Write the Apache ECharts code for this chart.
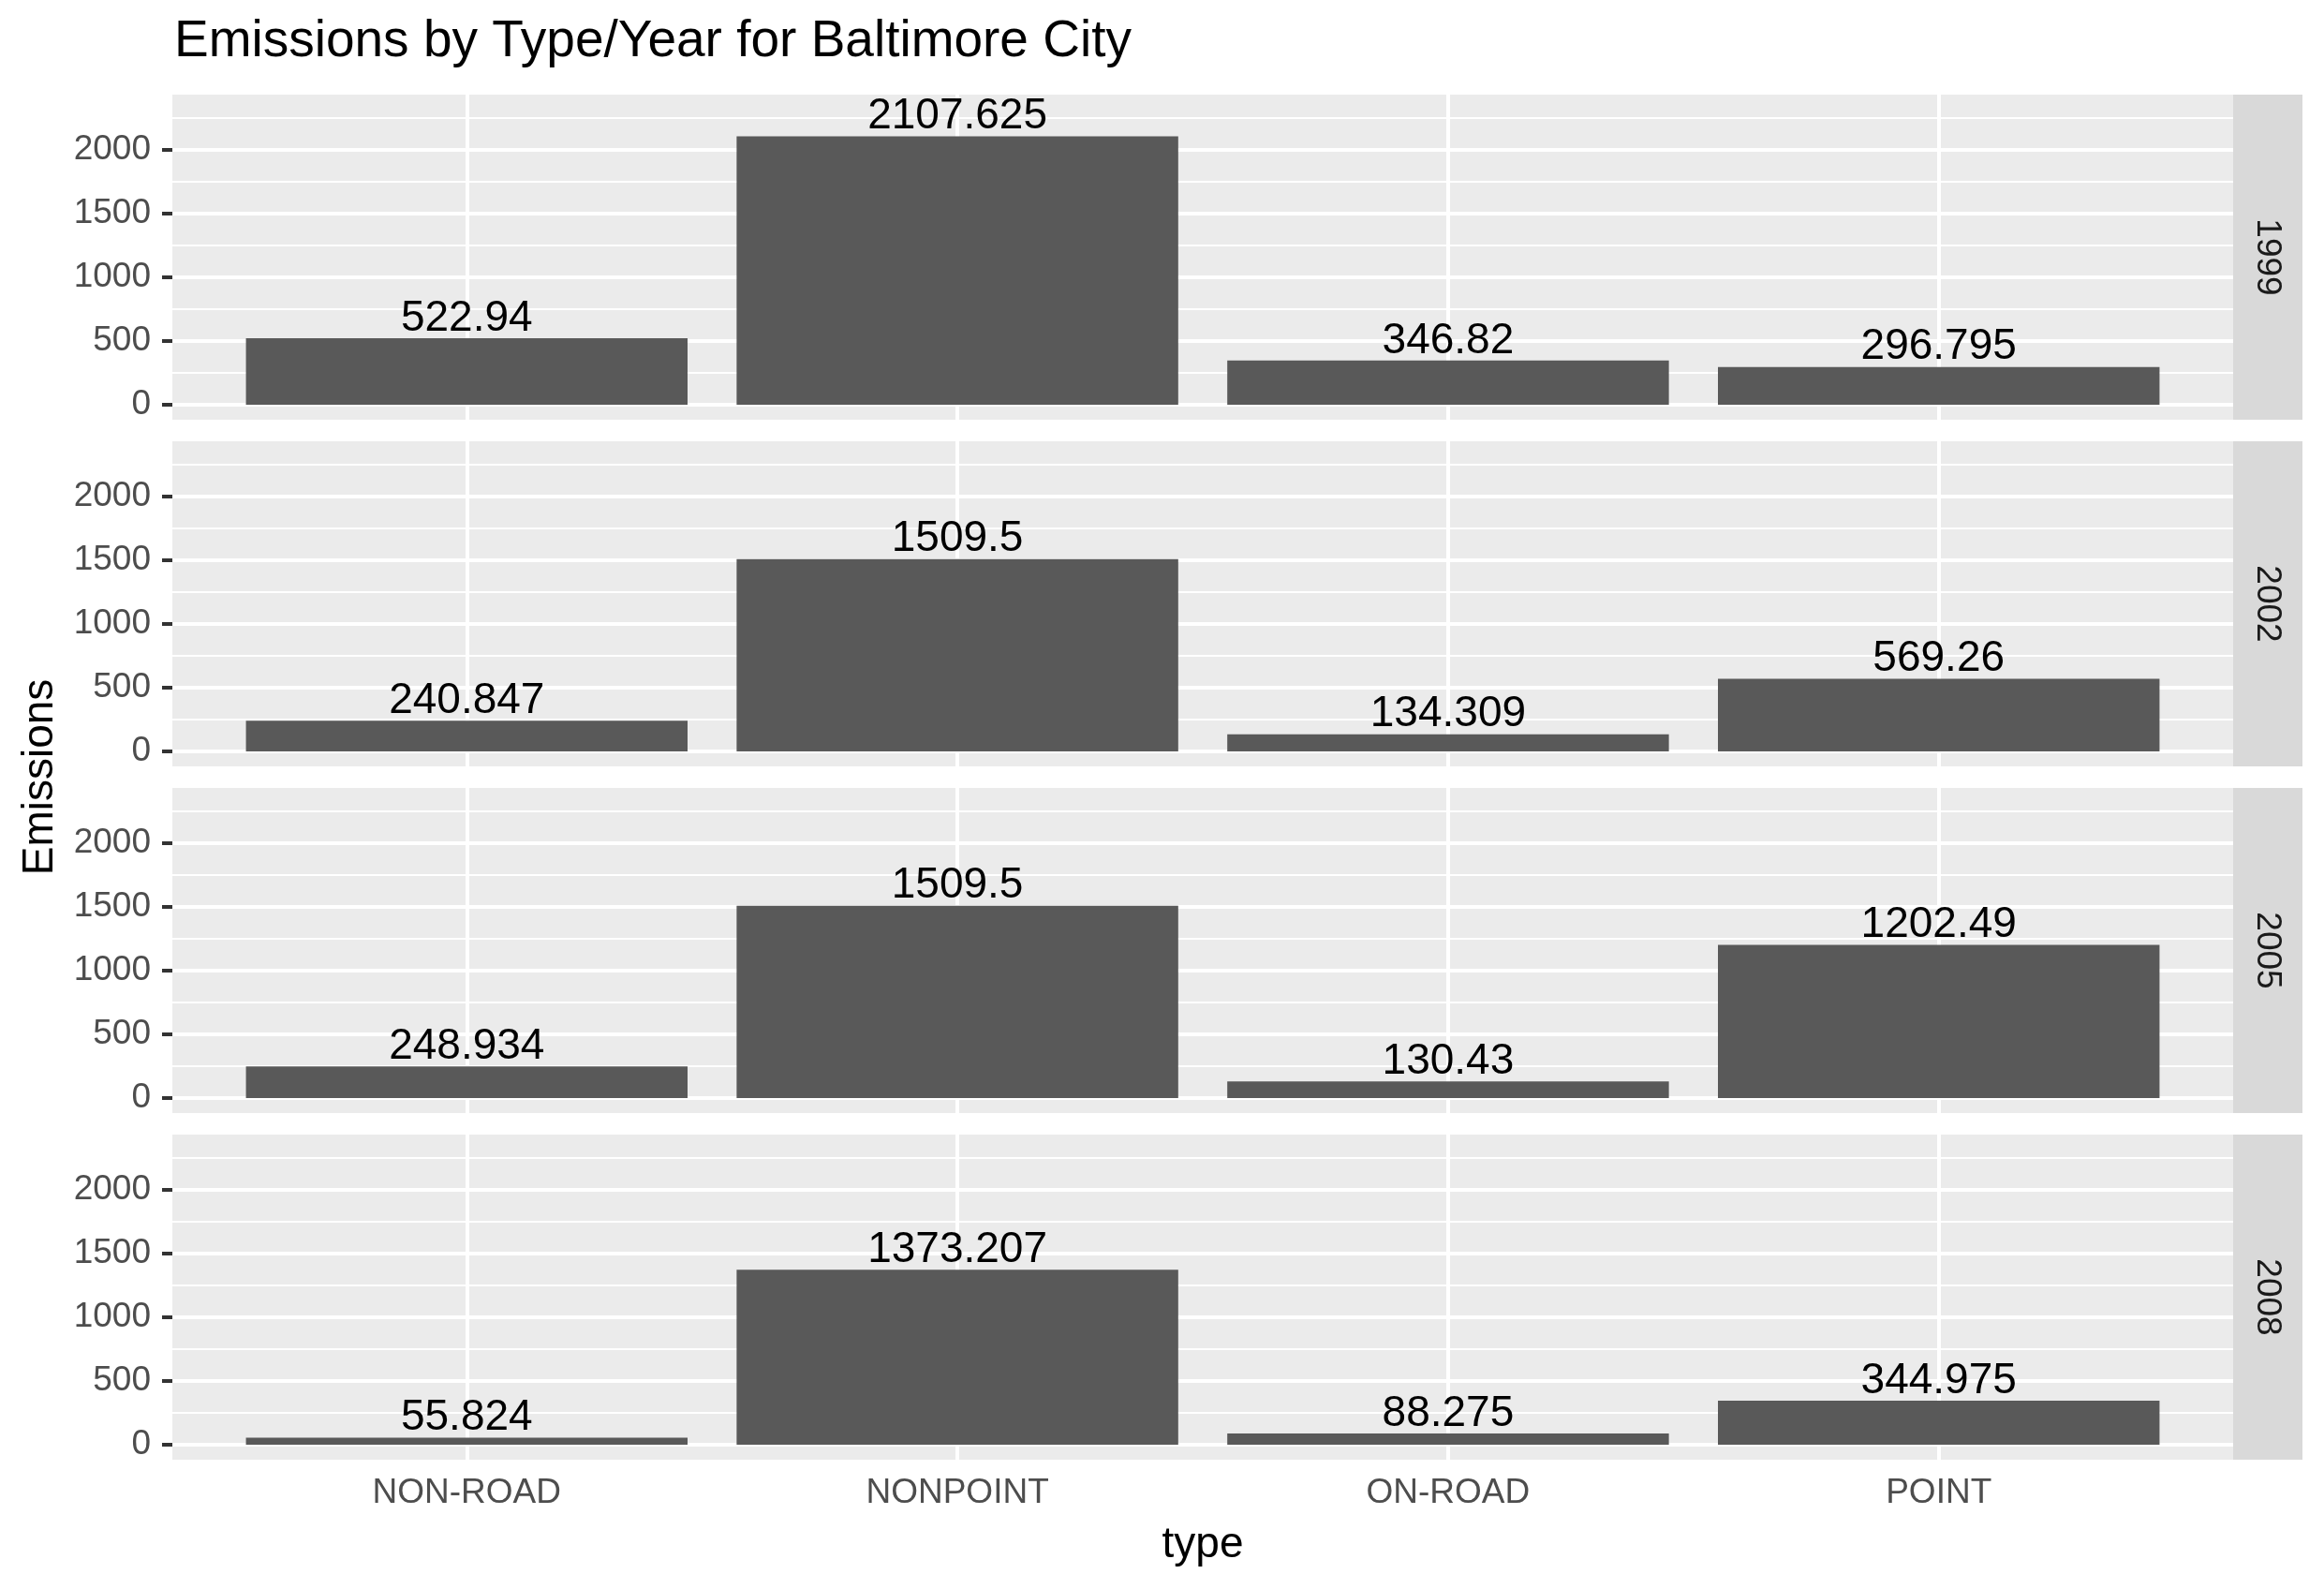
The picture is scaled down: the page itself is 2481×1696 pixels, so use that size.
<!DOCTYPE html>
<html>
<head>
<meta charset="utf-8">
<title>Emissions by Type/Year for Baltimore City</title>
<script src="https://cdn.jsdelivr.net/npm/echarts@6/dist/echarts.min.js"></script>
<style>
  html, body { margin: 0; padding: 0; background: #fff; }
  #chart { width: 2481px; height: 1696px; }
</style>
</head>
<body>
<div id="chart"></div>
<script>
// data
const categories = ['NON-ROAD', 'NONPOINT', 'ON-ROAD', 'POINT'];
const years = ['1999', '2002', '2005', '2008'];
const e1999 = [522.94, 2107.625, 346.82, 296.795];
const e2002 = [240.847, 1509.5, 134.309, 569.26];
const e2005 = [248.934, 1509.5, 130.43, 1202.49];
const e2008 = [55.824, 1373.207, 88.275, 344.975];
const yTicks = [0, 500, 1000, 1500, 2000];
const yMinor = [250, 750, 1250, 1750, 2250];

const emissions = [e1999, e2002, e2005, e2008];

// layout (ggplot facet_grid look)
const FONT = 'Liberation Sans, Arial, sans-serif';
const panelLeft = 184;
const panelWidth = 2200;
const panelTop = 101;
const panelHeight = 347;
const panelStep = 370;
const stripWidth = 74;

const chart = echarts.init(document.getElementById('chart'));

const grids = [], xAxes = [], yAxes = [], series = [], graphics = [];

years.forEach((yr, i) => {
  const top = panelTop + i * panelStep;
  const last = i === years.length - 1;
  grids.push({
    left: panelLeft, top: top, width: panelWidth, height: panelHeight,
    show: true, backgroundColor: '#EBEBEB', borderWidth: 0
  });
  xAxes.push({
    type: 'value', gridIndex: i, min: 0.4, max: 4.6,
    axisLine: { show: false },
    splitLine: { show: false },
    axisTick: last ? { show: true, customValues: [1, 2, 3, 4], length: 11,
                       lineStyle: { color: '#333333', width: 4 } } : { show: false },
    axisLabel: last ? { show: true, customValues: [1, 2, 3, 4], margin: 17,
                        color: '#4D4D4D', fontSize: 37, fontFamily: FONT,
                        formatter: v => categories[Math.round(v) - 1] } : { show: false }
  });
  yAxes.push({
    type: 'value', gridIndex: i, min: -117.6, max: 2434,
    axisLine: { show: false },
    splitLine: { show: false },
    axisTick: { show: true, customValues: yTicks, length: 11,
                lineStyle: { color: '#333333', width: 4 } },
    axisLabel: { show: true, customValues: yTicks, margin: 23,
                 color: '#4D4D4D', fontSize: 37, fontFamily: FONT,
                 formatter: v => String(v) }
  });

  // white grid lines drawn under the bars
  const lines = [];
  yMinor.forEach(v => lines.push({ yAxis: v, lineStyle: { width: 2 } }));
  yTicks.forEach(v => lines.push({ yAxis: v, lineStyle: { width: 4 } }));
  categories.forEach((c, k) => lines.push({ xAxis: k + 1, lineStyle: { width: 4 } }));

  series.push({
    type: 'bar',
    xAxisIndex: i, yAxisIndex: i,
    barWidth: '90%',
    z: 2,
    itemStyle: { color: '#595959' },
    data: categories.map((c, k) => [k + 1, emissions[i][k]]),
    label: {
      show: true, position: 'top', distance: -2,
      color: '#000', fontSize: 46, fontFamily: FONT,
      formatter: p => String(p.value[1])
    },
    markLine: {
      z: 1, silent: true, symbol: 'none', animation: false,
      label: { show: false },
      lineStyle: { color: '#FFFFFF', type: 'solid' },
      data: lines
    }
  });

  // facet strip on the right
  graphics.push({
    type: 'rect',
    shape: { x: panelLeft + panelWidth, y: top, width: stripWidth, height: panelHeight },
    style: { fill: '#D9D9D9' }
  });
  graphics.push({
    type: 'text',
    x: panelLeft + panelWidth + stripWidth / 2 - 1,
    y: top + panelHeight / 2,
    rotation: -Math.PI / 2,
    style: { text: yr, fill: '#1A1A1A', font: '37px ' + FONT, align: 'center', verticalAlign: 'middle' }
  });
});

// axis titles
graphics.push({
  type: 'text', x: 43, y: panelTop + (panelStep * 3 + panelHeight) / 2,
  rotation: Math.PI / 2,
  style: { text: 'Emissions', fill: '#000', font: '46px ' + FONT, align: 'center', verticalAlign: 'middle' }
});
graphics.push({
  type: 'text', x: panelLeft + panelWidth / 2, y: 1649,
  style: { text: 'type', fill: '#000', font: '46px ' + FONT, align: 'center', verticalAlign: 'middle' }
});

chart.setOption({
  animation: false,
  backgroundColor: '#FFFFFF',
  title: {
    text: 'Emissions by Type/Year for Baltimore City',
    left: 186, top: 17, padding: 0,
    textStyle: { color: '#000', fontSize: 55, fontWeight: 'normal', fontFamily: FONT }
  },
  grid: grids,
  xAxis: xAxes,
  yAxis: yAxes,
  series: series,
  graphic: graphics
});
</script>
</body>
</html>
